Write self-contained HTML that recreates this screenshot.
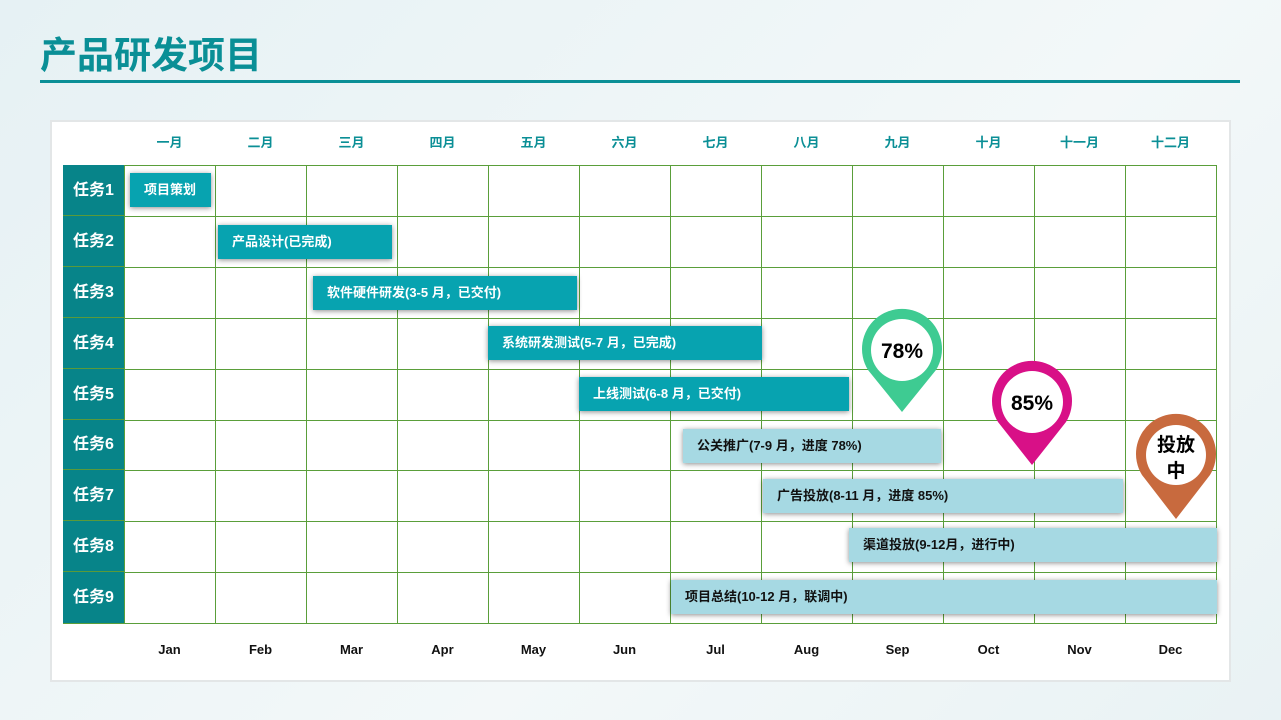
<!DOCTYPE html>
<html><head><meta charset="utf-8"><style>
body{margin:0;width:1281px;height:720px;overflow:hidden;background:linear-gradient(135deg,#e6f1f4,#f3f8f9 60%,#e9f2f4);font-family:"Liberation Sans","Noto Sans CJK SC",sans-serif;position:relative}
.t{position:absolute;left:40px;top:25px;font-size:37px;font-weight:bold;color:#0a8f96;letter-spacing:0px}
.ln{position:absolute;left:40px;top:80px;width:1200px;height:3px;background:#0a8f96}
.card{position:absolute;left:50px;top:120px;width:1177px;height:558px;background:#fff;border:2px solid #e3e6e7}
.mh{position:absolute;top:132px;width:91px;text-align:center;font-size:13px;font-weight:bold;color:#0b8f96}
.mb{position:absolute;top:642px;width:91px;text-align:center;font-size:13px;font-weight:bold;color:#111}
.lab{position:absolute;left:63px;width:61px;background:#078489;color:#fff;font-weight:bold;font-size:16px;text-align:center;box-sizing:border-box;border-bottom:1px solid #5a9a3a}
.bar{position:absolute;height:34px;line-height:34px;font-size:13px;font-weight:bold;box-shadow:0 1px 5px rgba(0,0,0,.45);box-sizing:border-box;padding-left:14px;white-space:nowrap}
.d{background:#07a3b0;color:#fff}.l{background:#a6d9e3;color:#111}
</style></head><body>
<div class="t">产品研发项目</div><div class="ln"></div>
<div class="card"></div>
<svg style="position:absolute;left:0;top:0" width="1281" height="720">
<g stroke="#5a9e3a" stroke-width="1" fill="none">
<rect x="63.5" y="165.5" width="1153" height="458"/>
<line x1="124.5" y1="165" x2="124.5" y2="623"/>
<line x1="215.5" y1="165" x2="215.5" y2="623"/><line x1="306.5" y1="165" x2="306.5" y2="623"/>
<line x1="397.5" y1="165" x2="397.5" y2="623"/><line x1="488.5" y1="165" x2="488.5" y2="623"/>
<line x1="579.5" y1="165" x2="579.5" y2="623"/><line x1="670.5" y1="165" x2="670.5" y2="623"/>
<line x1="761.5" y1="165" x2="761.5" y2="623"/><line x1="852.5" y1="165" x2="852.5" y2="623"/>
<line x1="943.5" y1="165" x2="943.5" y2="623"/><line x1="1034.5" y1="165" x2="1034.5" y2="623"/>
<line x1="1125.5" y1="165" x2="1125.5" y2="623"/>
<line x1="63" y1="216.5" x2="1216" y2="216.5"/><line x1="63" y1="267.5" x2="1216" y2="267.5"/>
<line x1="63" y1="318.5" x2="1216" y2="318.5"/><line x1="63" y1="369.5" x2="1216" y2="369.5"/>
<line x1="63" y1="420.5" x2="1216" y2="420.5"/><line x1="63" y1="470.5" x2="1216" y2="470.5"/>
<line x1="63" y1="521.5" x2="1216" y2="521.5"/><line x1="63" y1="572.5" x2="1216" y2="572.5"/>
</g></svg>
<div class="mh" style="left:124px">一月</div><div class="mh" style="left:215px">二月</div><div class="mh" style="left:306px">三月</div><div class="mh" style="left:397px">四月</div><div class="mh" style="left:488px">五月</div><div class="mh" style="left:579px">六月</div><div class="mh" style="left:670px">七月</div><div class="mh" style="left:761px">八月</div><div class="mh" style="left:852px">九月</div><div class="mh" style="left:943px">十月</div><div class="mh" style="left:1034px">十一月</div><div class="mh" style="left:1125px">十二月</div>
<div class="mb" style="left:124px">Jan</div><div class="mb" style="left:215px">Feb</div><div class="mb" style="left:306px">Mar</div><div class="mb" style="left:397px">Apr</div><div class="mb" style="left:488px">May</div><div class="mb" style="left:579px">Jun</div><div class="mb" style="left:670px">Jul</div><div class="mb" style="left:761px">Aug</div><div class="mb" style="left:852px">Sep</div><div class="mb" style="left:943px">Oct</div><div class="mb" style="left:1034px">Nov</div><div class="mb" style="left:1125px">Dec</div>
<div class="lab" style="top:165px;height:51px;line-height:51px">任务1</div>
<div class="lab" style="top:216px;height:51px;line-height:51px">任务2</div>
<div class="lab" style="top:267px;height:51px;line-height:51px">任务3</div>
<div class="lab" style="top:318px;height:51px;line-height:51px">任务4</div>
<div class="lab" style="top:369px;height:51px;line-height:51px">任务5</div>
<div class="lab" style="top:420px;height:50px;line-height:50px">任务6</div>
<div class="lab" style="top:470px;height:51px;line-height:51px">任务7</div>
<div class="lab" style="top:521px;height:51px;line-height:51px">任务8</div>
<div class="lab" style="top:572px;height:51px;line-height:51px;border-bottom:none">任务9</div>
<div class="bar d" style="left:130px;top:173px;width:81px">项目策划</div>
<div class="bar d" style="left:218px;top:225px;width:174px">产品设计(已完成)</div>
<div class="bar d" style="left:313px;top:276px;width:264px">软件硬件研发(3-5 月，已交付)</div>
<div class="bar d" style="left:488px;top:326px;width:274px">系统研发测试(5-7 月，已完成)</div>
<div class="bar d" style="left:579px;top:377px;width:270px">上线测试(6-8 月，已交付)</div>
<div class="bar l" style="left:683px;top:429px;width:258px">公关推广(7-9 月，进度 78%)</div>
<div class="bar l" style="left:763px;top:479px;width:360px">广告投放(8-11 月，进度 85%)</div>
<div class="bar l" style="left:849px;top:528px;width:368px">渠道投放(9-12月，进行中)</div>
<div class="bar l" style="left:671px;top:580px;width:546px">项目总结(10-12 月，联调中)</div>
<svg style="position:absolute;left:0;top:0" width="1281" height="720" font-family="Liberation Sans,Noto Sans CJK SC,sans-serif" font-weight="bold" text-anchor="middle">
<path d="M902,412 L868,370 A40,40 0 1 1 936,370 Z" fill="#3ecb92"/><circle cx="902" cy="350" r="31" fill="#fff"/>
<text x="902" y="358" font-size="21">78%</text>
<path d="M1032,465 L998,422 A40,40 0 1 1 1066,422 Z" fill="#d81087"/><circle cx="1032" cy="402" r="31" fill="#fff"/>
<text x="1032" y="410" font-size="21">85%</text>
<path d="M1176,519 L1142,475 A40,40 0 1 1 1210,475 Z" fill="#c86a3e"/><circle cx="1176" cy="455" r="30" fill="#fff"/>
<text x="1176" y="451" font-size="19">投放</text><text x="1176" y="477" font-size="19">中</text>
</svg>
</body></html>
